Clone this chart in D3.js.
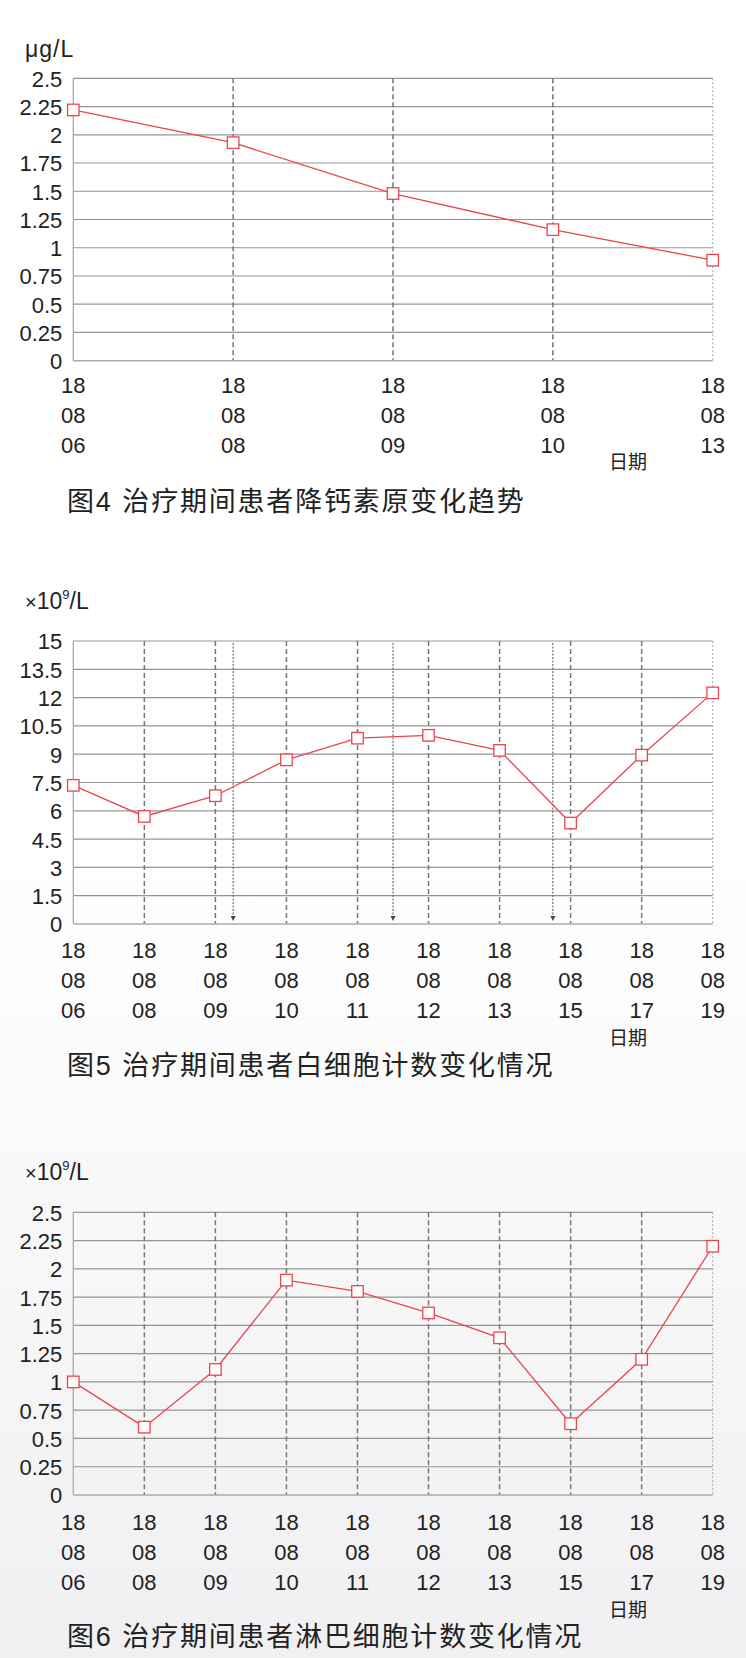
<!DOCTYPE html>
<html>
<head>
<meta charset="utf-8">
<script src="https://cdn.jsdelivr.net/npm/d3@7/dist/d3.min.js"></script>
<style>
  html, body { margin: 0; padding: 0; background: #fff; }
  svg { display: block; }
</style>
</head>
<body>
<svg id="chart" width="746" height="1658"></svg>
<script>
// ---------------- DATA ----------------
const pctDates = ["180806", "180808", "180809", "180810", "180813"];
const pctValues = [2.22, 1.93, 1.48, 1.16, 0.89];
const pctTicks = [0, 0.25, 0.5, 0.75, 1, 1.25, 1.5, 1.75, 2, 2.25, 2.5];
const pctUnit = "μg/L";
const pctTitle = "图4 治疗期间患者降钙素原变化趋势";

const wbcDates = ["180806", "180808", "180809", "180810", "180811", "180812", "180813", "180815", "180817", "180819"];
const wbcValues = [7.35, 5.7, 6.8, 8.7, 9.85, 10.0, 9.2, 5.35, 8.95, 12.25];
const wbcTicks = [0, 1.5, 3, 4.5, 6, 7.5, 9, 10.5, 12, 13.5, 15];
const wbcArrows = [2.25, 4.5, 6.75]; // event markers, in category-index units
const wbcTitle = "图5 治疗期间患者白细胞计数变化情况";

const lymDates = ["180806", "180808", "180809", "180810", "180811", "180812", "180813", "180815", "180817", "180819"];
const lymValues = [1.0, 0.6, 1.11, 1.9, 1.8, 1.61, 1.39, 0.63, 1.2, 2.2];
const lymTicks = [0, 0.25, 0.5, 0.75, 1, 1.25, 1.5, 1.75, 2, 2.25, 2.5];
const lymTitle = "图6 治疗期间患者淋巴细胞计数变化情况";

const xAxisName = "日期";

// ---------------- LAYOUT ----------------
const svg = d3.select("#chart");
const LEFT = 73.3, RIGHT = 712.7;
const NUM_FONT = "'Liberation Sans', Arial, Helvetica, sans-serif";
const CJK_FONT = "'Noto Sans CJK SC', 'Noto Sans', sans-serif";
const RED = "#e8464f";
const TEXT = "#222";

// soft background shading on lower part
const defs = svg.append("defs");
const grad = defs.append("linearGradient").attr("id", "bg").attr("x1", 0).attr("y1", 0).attr("x2", 0).attr("y2", 1);
grad.append("stop").attr("offset", "0").attr("stop-color", "#ffffff");
grad.append("stop").attr("offset", "0.5").attr("stop-color", "#ffffff");
grad.append("stop").attr("offset", "1").attr("stop-color", "#f0f0f2");
svg.append("rect").attr("width", 746).attr("height", 1658).attr("fill", "url(#bg)");

const fmt = d => String(+d.toFixed(2));

function drawChart(cfg) {
  const g = svg.append("g");
  const n = cfg.dates.length;
  const x = d3.scalePoint().domain(d3.range(n)).range([LEFT, RIGHT]);
  const xi = d3.scaleLinear().domain([0, n - 1]).range([LEFT, RIGHT]);
  const maxV = cfg.ticks[cfg.ticks.length - 1];
  const y = d3.scaleLinear().domain([0, maxV]).range([cfg.bottom, cfg.top]);

  // horizontal grid lines
  g.selectAll(".hgrid").data(cfg.ticks.filter(t => t > 0)).join("line")
    .attr("x1", LEFT).attr("x2", RIGHT)
    .attr("y1", d => y(d)).attr("y2", d => y(d))
    .attr("stroke", "#959595").attr("stroke-width", 1.2);

  // vertical dashed lines at interior categories
  g.selectAll(".vgrid").data(d3.range(1, n - 1)).join("line")
    .attr("x1", d => x(d)).attr("x2", d => x(d))
    .attr("y1", cfg.top).attr("y2", cfg.bottom)
    .attr("stroke", "#777").attr("stroke-width", 1.5)
    .attr("stroke-dasharray", "5,3");

  // right border (dotted)
  g.append("line")
    .attr("x1", x(n - 1)).attr("x2", x(n - 1))
    .attr("y1", cfg.top).attr("y2", cfg.bottom)
    .attr("stroke", "#b3b3b3").attr("stroke-width", 1.2)
    .attr("stroke-dasharray", "2,2");

  // event arrows
  if (cfg.arrows) {
    cfg.arrows.forEach(a => {
      const ax = xi(a);
      g.append("line")
        .attr("x1", ax).attr("x2", ax)
        .attr("y1", cfg.top + 2).attr("y2", cfg.bottom - 6)
        .attr("stroke", "#555").attr("stroke-width", 1)
        .attr("stroke-dasharray", "2,1.5");
      g.append("path")
        .attr("d", `M${ax - 2.5},${cfg.bottom - 8} L${ax + 2.5},${cfg.bottom - 8} L${ax},${cfg.bottom - 3} Z`)
        .attr("fill", "#444");
    });
  }

  // bottom axis line and left axis line
  g.append("line")
    .attr("x1", LEFT).attr("x2", RIGHT)
    .attr("y1", y(0)).attr("y2", y(0))
    .attr("stroke", "#ababab").attr("stroke-width", 1.5);
  g.append("line")
    .attr("x1", LEFT).attr("x2", LEFT)
    .attr("y1", cfg.top).attr("y2", cfg.bottom)
    .attr("stroke", "#ababab").attr("stroke-width", 1.3);

  // y axis tick labels
  const yAxis = d3.axisLeft(y).tickValues(cfg.ticks).tickFormat(fmt).tickSize(0).tickPadding(11);
  const ya = g.append("g").attr("transform", `translate(${LEFT},0)`).call(yAxis);
  ya.select(".domain").remove();
  ya.selectAll("text")
    .attr("font-family", NUM_FONT).attr("font-size", 22)
    .attr("fill", TEXT).attr("dy", "0.36em");

  // unit label
  g.append("text").attr("x", 25).attr("y", cfg.unitY)
    .attr("font-family", NUM_FONT).attr("font-size", 23).attr("fill", TEXT)
    .call(t => {
      if (cfg.unit === "sci") {
        t.append("tspan").attr("font-size", 20).text("×");
        t.append("tspan").text("10");
        t.append("tspan").attr("font-size", 13).attr("dy", -10).text("9");
        t.append("tspan").attr("dy", 10).text("/L");
      } else {
        t.attr("letter-spacing", 1).text(cfg.unit);
      }
    });

  // x category labels (three rows)
  const xl = g.selectAll(".xlab").data(cfg.dates).join("text")
    .attr("x", (d, i) => x(i))
    .attr("text-anchor", "middle")
    .attr("font-family", NUM_FONT).attr("font-size", 22).attr("fill", TEXT);
  [0, 1, 2].forEach(r => {
    xl.append("tspan")
      .attr("x", (d, i) => x(i))
      .attr("y", y(0) + cfg.labOff + r * 30)
      .attr("dy", "0.36em")
      .text(d => d.slice(r * 2, r * 2 + 2));
  });

  // x axis name
  g.append("text").attr("x", 628).attr("y", y(0) + cfg.nameOff).attr("dy", "0.36em")
    .attr("text-anchor", "middle")
    .attr("font-family", CJK_FONT).attr("font-size", 19).attr("fill", TEXT)
    .text(xAxisName);

  // series line
  const line = d3.line().x((d, i) => x(i)).y(d => y(d));
  g.append("path").datum(cfg.values)
    .attr("d", line).attr("fill", "none")
    .attr("stroke", RED).attr("stroke-width", 1.3);

  // markers
  const S = 11.5;
  g.selectAll(".mk").data(cfg.values).join("rect")
    .attr("x", (d, i) => x(i) - S / 2).attr("y", d => y(d) - S / 2)
    .attr("width", S).attr("height", S)
    .attr("fill", "#fff").attr("stroke", RED).attr("stroke-width", 1.3);

  // figure caption
  const title = g.append("text").attr("x", 67).attr("y", y(0) + 141).attr("dy", "0.36em")
    .attr("font-family", CJK_FONT).attr("font-size", 27).attr("fill", TEXT)
    .attr("letter-spacing", 1.8);
  const m = cfg.title.match(/^(图)(\d+)(\s)(.*)$/);
  title.append("tspan").text(m[1]);
  title.append("tspan").attr("font-family", NUM_FONT).attr("font-size", 27).attr("letter-spacing", 2).text(m[2] + " ");
  title.append("tspan").text(m[4]);
}

drawChart({ dates: pctDates, values: pctValues, ticks: pctTicks, unit: pctUnit, title: pctTitle,
  top: 78.3, bottom: 360.7, unitY: 57, labOff: 24.5, nameOff: 101 });
drawChart({ dates: wbcDates, values: wbcValues, ticks: wbcTicks, unit: "sci", title: wbcTitle, arrows: wbcArrows,
  top: 641, bottom: 924, unitY: 609, labOff: 26, nameOff: 114 });
drawChart({ dates: lymDates, values: lymValues, ticks: lymTicks, unit: "sci", title: lymTitle,
  top: 1212.3, bottom: 1495, unitY: 1180, labOff: 27, nameOff: 115 });
</script>
</body>
</html>
